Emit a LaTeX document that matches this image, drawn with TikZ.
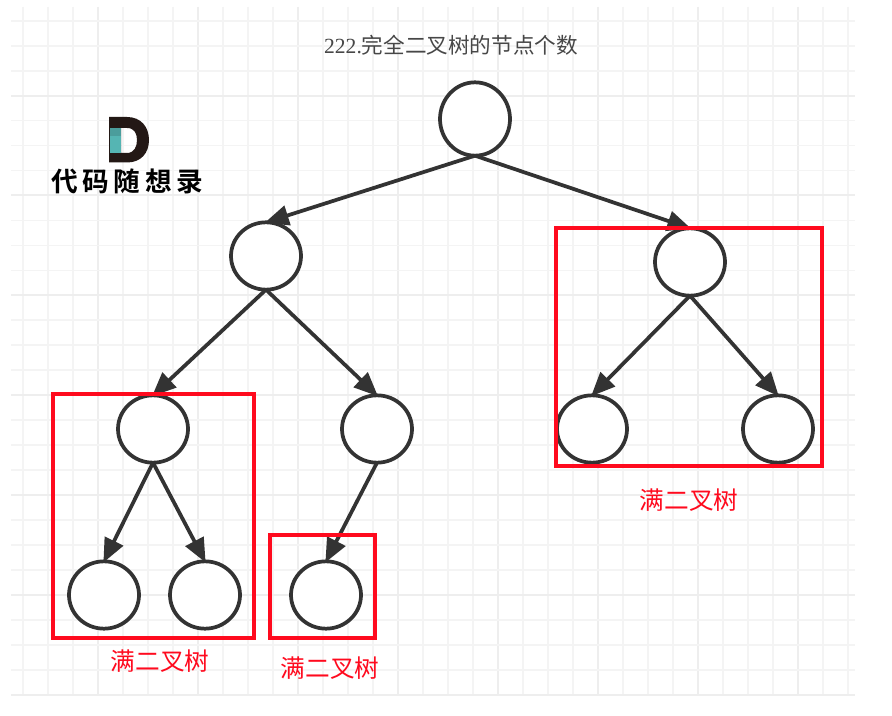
\documentclass[tikz,border=0pt]{standalone}
\usepackage{fontspec}
\setmainfont{Liberation Serif}
\newfontfamily\cjk{Noto Sans CJK SC}
\newfontfamily\cjkbold{Noto Sans CJK SC Bold}
\usetikzlibrary{shapes.geometric,arrows.meta}
\definecolor{gridthin}{HTML}{F4F4F4}
\definecolor{gridbold}{HTML}{EEEEEE}
\definecolor{ink}{HTML}{333333}
\definecolor{redbox}{HTML}{FF0A1E}
\definecolor{logodark}{HTML}{231815}
\definecolor{logoteal}{HTML}{55B5B3}
\definecolor{logotealdark}{HTML}{4B9D9C}
\tikzset{
  x=0.75pt,y=-0.75pt,
  treenode/.style={ellipse,draw=ink,fill=white,line width=2.8pt,minimum width=52.5pt,minimum height=50.5pt,inner sep=0pt,outer sep=0pt},
  treeedge/.style={draw=ink,line width=2.8pt,-{Triangle[length=18pt,width=15pt]},shorten >=-1pt},
  fullbox/.style={draw=redbox,line width=2.6pt,fill=none},
  redlabel/.style={text=redbox,font=\cjk\fontsize{18.5}{20}\selectfont,inner sep=0pt},
}
\begin{document}
\begin{tikzpicture}
\useasboundingbox (0,0) rectangle (892,716);
\fill[white] (0,0) rectangle (892,716);
% grid
\foreach \k in {0,...,33}{
  \pgfmathsetmacro{\gx}{23.3+25*\k}
  \pgfmathtruncatemacro{\isb}{mod(\k,4)==3}
  \ifnum\isb=1
    \draw[gridbold,line width=1.5pt] (\gx,7) -- (\gx,695);
  \else
    \draw[gridthin,line width=1.3pt] (\gx,7) -- (\gx,695);
  \fi
}
\foreach \k in {0,...,27}{
  \pgfmathsetmacro{\gy}{20.7+24.97*\k}
  \pgfmathtruncatemacro{\isb}{mod(\k,4)==3}
  \ifnum\isb=1
    \draw[gridbold,line width=1.5pt] (11,\gy) -- (855,\gy);
  \else
    \draw[gridthin,line width=1.3pt] (11,\gy) -- (855,\gy);
  \fi
}
% title
\node[text=ink!90!white,font=\fontsize{16.2}{18}\selectfont,inner sep=0pt] (title) at (451,45) {222.{\cjk 完全二叉树的节点个数}};
% logo
\fill[logodark,even odd rule] (109,117) -- (127,117) .. controls (141,117) and (149,127) .. (149,140) .. controls (149,153) and (141,162.5) .. (127,162.5) -- (109,162.5) -- cycle
  (121,128) -- (127,128) .. controls (134,128) and (137,133) .. (137,140) .. controls (137,147) and (134,153) .. (127,153) -- (121,153) -- cycle;
\fill[logoteal] (109.5,128) rectangle (121,153);
\fill[logotealdark] (109.5,128) rectangle (121,136);
\node[text=black,font=\cjkbold\fontsize{20}{23}\selectfont,inner sep=0pt] (logotext) at (127,181) {代\hspace{3.5pt}码\hspace{3.5pt}随\hspace{3.5pt}想\hspace{3.5pt}录};
% nodes
\node[treenode,minimum height=55pt] (root) at (475,119) {};
\node[treenode] (l) at (266,256) {};
\node[treenode] (r) at (690,262) {};
\node[treenode] (ll) at (153,429) {};
\node[treenode] (lr) at (377,429) {};
\node[treenode] (rl) at (592,429) {};
\node[treenode] (rr) at (778,429) {};
\node[treenode] (lll) at (104,595) {};
\node[treenode] (llr) at (205,595) {};
\node[treenode] (lrl) at (326,595) {};
% edges
\draw[treeedge] (root.south) -- (l.north);
\draw[treeedge] (root.south) -- (r.north);
\draw[treeedge] (l.south) -- (ll.north);
\draw[treeedge] (l.south) -- (lr.north);
\draw[treeedge] (r.south) -- (rl.north);
\draw[treeedge] (r.south) -- (rr.north);
\draw[treeedge] (ll.south) -- (lll.north);
\draw[treeedge] (ll.south) -- (llr.north);
\draw[treeedge] (lr.south) -- (lrl.north);
% boxes
\node[fullbox,minimum width=150.75pt,minimum height=183pt,inner sep=0pt] (boxa) at (153.5,516) {};
\node[fullbox,minimum width=78.75pt,minimum height=77.25pt,inner sep=0pt] (boxb) at (322.5,586.5) {};
\node[fullbox,minimum width=199.5pt,minimum height=178.5pt,inner sep=0pt] (boxc) at (689,347) {};
% labels
\node[redlabel] (la) at (160,661) {满二叉树};
\node[redlabel] (lb) at (330,668) {满二叉树};
\node[redlabel] (lc) at (689,500) {满二叉树};
\end{tikzpicture}
\end{document}
